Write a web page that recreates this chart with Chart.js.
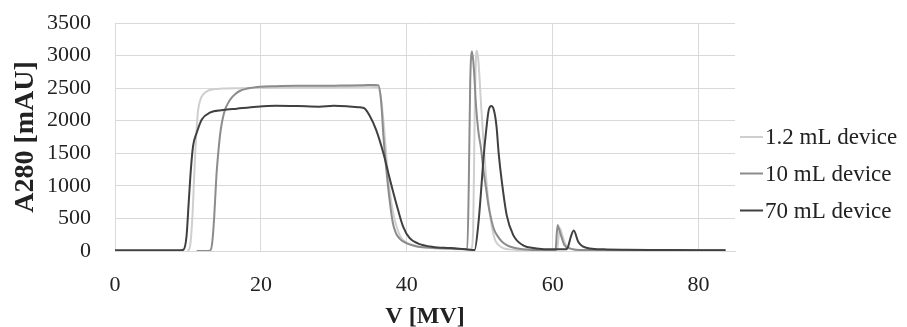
<!DOCTYPE html>
<html>
<head>
<meta charset="utf-8">
<script src="https://cdn.jsdelivr.net/npm/chart.js@4"></script>
<style>
  html, body { margin: 0; padding: 0; background: #fff; }
  #wrap { width: 907px; height: 327px; }
</style>
</head>
<body>
<div id="wrap"><canvas id="chromChart" width="907" height="327"></canvas></div>
<script>
// chromatogram — A280 vs volume for three device sizes

const seriesLabels = ["1.2 mL device", "10 mL device", "70 mL device"];
const seriesColors = ["#cfcfcf", "#8c8c8c", "#404040"];

const xTicks = [0, 20, 40, 60, 80];
const yTicks = [0, 500, 1000, 1500, 2000, 2500, 3000, 3500];

/* 1.2 mL device */
const vol12 = [10.0, 10.3, 10.6, 10.8, 11.0, 11.2, 11.4, 11.7, 12.1, 12.6, 13.0, 14.0, 14.8, 17, 20, 25, 30, 35,
  36.0, 36.4, 36.8, 37.2, 37.6, 37.9, 38.3, 38.6, 39.0, 39.5, 40.2, 40.9, 42, 44, 46, 48.0, 48.8,
  49.1, 49.3, 49.5, 49.6, 49.8, 50.2, 50.6, 50.9, 51.3, 51.7, 52.1, 52.6, 53.2, 54, 55.5, 57.5, 59.5,
  60.6, 60.8, 61.0, 61.3, 61.7, 62.1, 62.6, 63.5, 66, 70, 75, 80, 83.7];
const abs12 = [0, 80, 500, 1000, 1500, 1900, 2170, 2320, 2405, 2450, 2471, 2488, 2495, 2500, 2505, 2510, 2515, 2520,
  2515, 2400, 2000, 1454, 1000, 735, 500, 375, 250, 170, 115, 90, 60, 40, 30, 25, 30,
  300, 2000, 3000, 3075, 2950, 2225, 1550, 1095, 650, 350, 170, 90, 45, 25, 15, 10, 10,
  15, 200, 350, 250, 120, 60, 30, 15, 12, 10, 8, 8, 8];

/* 10 mL device */
const vol10 = [11.2, 13.0, 13.3, 13.6, 13.9, 14.2, 14.5, 14.8, 15.1, 15.5, 16.0, 16.5, 17.1, 18.0, 18.9, 19.9,
  22, 25, 28, 31, 34, 35.5, 36.1, 36.5, 36.8, 37.2, 37.7, 38.1, 38.5, 38.8, 39.3, 40.0, 41.0, 41.8, 43, 44.5,
  46, 47.3, 48.3, 48.5, 48.7, 48.95, 49.2, 49.5, 49.8, 50.2, 50.5, 50.9, 51.2, 51.6, 52.0, 52.5, 53.0, 53.7,
  54.7, 55.9, 57.5, 59.5, 60.4, 60.55, 60.7, 60.9, 61.2, 61.6, 62.3, 63.2, 65, 70, 75, 80, 83.7];
const abs10 = [0, 5, 100, 520, 1150, 1560, 1865, 2050, 2174, 2270, 2354, 2410, 2456, 2490, 2508, 2522,
  2530, 2535, 2535, 2540, 2545, 2550, 2545, 2277, 1762, 1249, 735, 427, 280, 220, 160, 118, 80, 62, 52, 45,
  38, 30, 30, 1000, 2600, 3063, 2800, 2225, 1850, 1557, 1250, 940, 700, 478, 320, 220, 150, 92,
  50, 26, 15, 10, 10, 250, 400, 330, 220, 92, 40, 20, 15, 12, 10, 10, 10];

/* 70 mL device */
const vol70 = [0, 5, 9.0, 9.4, 9.8, 10.1, 10.4, 10.7, 11.2, 11.9, 13.0, 14.8, 16.7, 19.4, 22, 25, 28, 30, 32,
  33.6, 34.2, 34.9, 35.8, 36.8, 37.4, 38.1, 38.8, 39.5, 40.4, 41.5, 43.6, 46, 48.5, 49.3, 49.8, 50.2, 50.5,
  50.9, 51.25, 51.6, 51.95, 52.3, 52.6, 53.0, 53.7, 54.6, 55.9, 57.8, 60, 61.8, 62.1, 62.5, 62.9, 63.5, 64.2,
  65.1, 67, 70, 75, 80, 83.7];
const abs70 = [10, 10, 10, 20, 220, 735, 1249, 1608, 1815, 2020, 2123, 2163, 2185, 2215, 2230, 2225, 2215, 2230, 2220,
  2205, 2190, 2080, 1860, 1500, 1230, 920, 632, 375, 196, 118, 62, 45, 20, 15, 400, 940, 1400,
  1865, 2170, 2225, 2160, 1917, 1500, 1095, 550, 243, 90, 40, 25, 25, 60, 220, 313, 143, 66,
  40, 25, 18, 15, 12, 10];

const serif = "'Liberation Serif', 'Times New Roman', serif";
const gridGray = "#d9d9d9";

function toPoints(xs, ys) {
  return xs.map((x, i) => ({ x: x, y: ys[i] }));
}

/* legend drawn at the right, beside the plot */
const sideLegend = {
  id: "sideLegend",
  afterDraw(chart) {
    const ctx = chart.ctx;
    const rows = [137, 173.5, 210.5];
    ctx.save();
    ctx.font = "23px " + serif;
    ctx.textBaseline = "middle";
    ctx.textAlign = "left";
    seriesLabels.forEach((label, i) => {
      ctx.strokeStyle = seriesColors[i];
      ctx.lineWidth = 2;
      ctx.beginPath();
      ctx.moveTo(740, rows[i]);
      ctx.lineTo(763, rows[i]);
      ctx.stroke();
      ctx.fillStyle = "#222";
      ctx.fillText(label, 765, rows[i] + 1);
    });
    ctx.restore();
  }
};

function drawChart() {
  const ctx = document.getElementById("chromChart").getContext("2d");
  const series = [[vol12, abs12], [vol10, abs10], [vol70, abs70]];

  new Chart(ctx, {
    type: "line",
    data: {
      datasets: series.map((s, i) => ({
        label: seriesLabels[i],
        data: toPoints(s[0], s[1]),
        borderColor: seriesColors[i],
        backgroundColor: seriesColors[i],
        borderWidth: 2,
        pointRadius: 0,
        fill: false,
        cubicInterpolationMode: "monotone",
        order: 3 - i
      }))
    },
    options: {
      responsive: false,
      animation: false,
      devicePixelRatio: 1,
      layout: { padding: { top: 23, right: 172, left: 0, bottom: 0 } },
      plugins: {
        legend: { display: false },
        tooltip: { enabled: false }
      },
      scales: {
        x: {
          type: "linear",
          min: 0,
          max: 85,
          afterBuildTicks: (scale) => { scale.ticks = xTicks.map(v => ({ value: v })); },
          afterFit: (scale) => { scale.height = 76; },
          ticks: {
            includeBounds: false,
            padding: 21,
            color: "#222",
            font: { family: serif, size: 22 },
            callback: (v) => String(v)
          },
          grid: { color: gridGray, lineWidth: 1, drawTicks: false },
          border: { color: gridGray },
          title: {
            display: true,
            text: "V [MV]",
            color: "#222",
            padding: { top: 0, bottom: 0 },
            font: { family: serif, size: 24, weight: "bold", lineHeight: 0.84 }
          }
        },
        y: {
          min: 0,
          max: 3500,
          afterBuildTicks: (scale) => { scale.ticks = yTicks.map(v => ({ value: v })); },
          afterFit: (scale) => {
            scale.width = 115;
            // tick padding would otherwise push the plot top down
            scale.paddingTop = 0;
            scale.paddingBottom = 0;
          },
          ticks: {
            padding: 24,
            color: "#222",
            font: { family: serif, size: 22 },
            callback: (v) => String(v)
          },
          grid: { color: gridGray, lineWidth: 1, drawTicks: false },
          border: { color: gridGray },
          title: {
            display: true,
            text: "A280 [mAU]",
            color: "#222",
            padding: { top: 9, bottom: 0 },
            font: { family: serif, size: 28, weight: "bold" }
          }
        }
      }
    },
    plugins: [sideLegend]
  });
}

drawChart();
</script>
</body>
</html>
